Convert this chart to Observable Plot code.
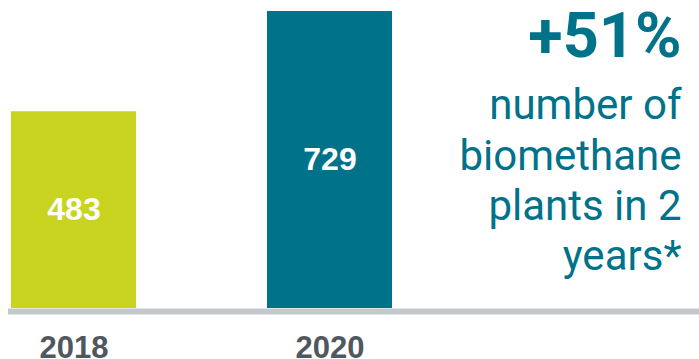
<!DOCTYPE html>
<html>
<head>
<meta charset="utf-8">
<script src="https://cdn.jsdelivr.net/npm/d3@7"></script>
<script src="https://cdn.jsdelivr.net/npm/@observablehq/plot@0.6"></script>
<style>
  html, body { margin: 0; padding: 0; background: #fff; }
  #chart svg { display: block; }
</style>
</head>
<body>
<div id="chart"></div>
<script>
const years = ["2018", "2020"];
const plants = [483, 729];
const barColors = ["#c9d420", "#00728a"];
const headline = "+51%";
const noteLines = ["number of", "biomethane", "plants in 2", "years*"];

const data = years.map((year, i) => ({year, value: plants[i], color: barColors[i]}));

const teal = "#00728a";

const chart = Plot.plot({
  width: 699,
  height: 359,
  marginTop: 11,
  marginBottom: 51,
  marginLeft: 8,
  marginRight: 0,
  style: {background: "#fff", overflow: "visible"},
  x: {domain: years, range: [11, 392], paddingInner: 0.512, paddingOuter: 0, axis: null, label: null},
  y: {domain: [0, 729], axis: null},
  marks: [
    Plot.barY(data, {x: "year", y: "value", fill: "color"}),
    Plot.ruleY([0], {stroke: "#c3c8cc", strokeWidth: 6, dy: 3}),
    Plot.text(data, {
      x: "year", y: d => d.value / 2, text: d => String(d.value),
      fill: "#fff", fontSize: 32, fontWeight: "bold",
      fontFamily: "Liberation Sans, Arial, sans-serif", lineAnchor: "middle"
    }),
    Plot.axisX({
      label: null, tickSize: 0, tickPadding: 27, fontSize: 31, fontWeight: "bold",
      fill: "#50575f", fontFamily: "Liberation Sans, Arial, sans-serif"
    }),
    Plot.text([headline], {
      frameAnchor: "top-right", text: d => d, dx: -18, dy: 1,
      lineAnchor: "top", textAnchor: "end",
      fill: teal, fontSize: 63, fontWeight: "bold", fontFamily: "Roboto, sans-serif"
    }),
    Plot.text([noteLines.join("\n")], {
      frameAnchor: "top-right", text: d => d, dx: -18, dy: 72,
      lineAnchor: "top", textAnchor: "end", lineHeight: 1.2,
      fill: teal, fontSize: 42, fontFamily: "Roboto, sans-serif"
    })
  ]
});
document.getElementById("chart").append(chart);
</script>
</body>
</html>
